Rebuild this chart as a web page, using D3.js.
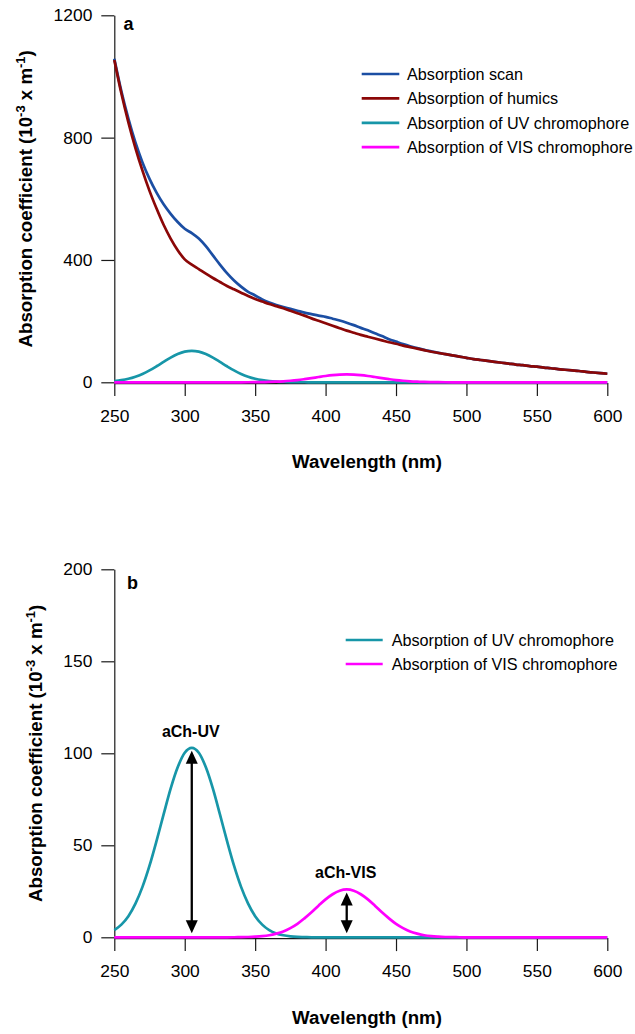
<!DOCTYPE html>
<html>
<head>
<meta charset="utf-8">
<script src="https://cdn.jsdelivr.net/npm/d3@7"></script>
<style>
  html, body { margin: 0; padding: 0; background: #fff; }
  svg { display: block; font-family: "Liberation Sans", Arial, sans-serif; }
</style>
</head>
<body>
<svg id="chart" width="635" height="1034"></svg>
<script>
// Wavelength grid (nm)
const wavelength = [250,255,260,265,270,275,280,285,290,295,300,305,310,315,320,325,330,335,340,345,
  350,355,360,365,370,375,380,385,390,395,400,405,410,415,420,425,430,435,440,445,
  450,455,460,465,470,475,480,485,490,495,500,505,510,515,520,525,530,535,540,545,
  550,555,560,565,570,575,580,585,590,595,600];

// Measured absorption scan (10^-3 m^-1)
const scan = [1058,952,862,784,719,665,620,582,551,524,502,488,470,445,415,385,357,333,313,296,
  284,271,261,253,246,240,234,228,223,218,214,208,202,195,187,178,170,160,151,141,
  133,125,118,112,106,101,96,92,88,84,80,76,73,70,67,64,61,58,56,53,
  51,48,46,43,41,39,37,34,32,30,28];

// Humic background absorption
const humics = [1054,945,850,766,692,626,568,515,470,432,402,385,370,355,341,328,315,304,293,282,
  272,264,256,249,242,234,226,218,209,201,193,185,177,169,162,155,149,143,137,131,
  126,120,115,110,105,100,96,92,88,84,80,76,73,70,67,64,61,58,56,53,
  51,48,46,43,41,39,37,34,32,30,28];

// UV chromophore band
const uvChromophore = [3.9,6.9,11.5,18.3,27.4,38.9,52.4,66.8,80.8,92.4,100.3,103,100.3,92.4,80.8,66.8,52.4,38.9,27.4,18.3,
  11.5,6.9,3.9,2.1,1.1,0.5,0.2,0.1,0,0,0,0,0,0,0,0,0,0,0,0,
  0,0,0,0,0,0,0,0,0,0,0,0,0,0,0,0,0,0,0,0,
  0,0,0,0,0,0,0,0,0,0,0];

// VIS chromophore band
const visChromophore = [0,0,0,0,0,0,0,0,0,0,0,0,0,0,0,0,0,0.03,0.07,0.16,
  0.33,0.6,1.1,2.0,3.2,5.0,7.3,10.3,13.6,17.2,20.6,23.4,25.3,26,25.3,23.4,20.6,17.2,13.6,10.3,
  7.3,5.0,3.2,2.0,1.1,0.6,0.33,0.16,0.07,0.03,0,0,0,0,0,0,0,0,0,0,
  0,0,0,0,0,0,0,0,0,0,0];

const xTicks = [250,300,350,400,450,500,550,600];
const yTicksA = [0,400,800,1200];
const yTicksB = [0,50,100,150,200];

const seriesNamesA = ["Absorption scan","Absorption of humics","Absorption of UV chromophore","Absorption of VIS chromophore"];
const seriesNamesB = ["Absorption of UV chromophore","Absorption of VIS chromophore"];

// Peak annotations in panel b
const peakLabels = ["aCh-UV","aCh-VIS"];
const peakWavelength = [305,415];
const peakHeight = [103,26];

const colors = {
  scan: "#1b4ea3",
  humics: "#8b0707",
  uv: "#1796a8",
  vis: "#ff00ff"
};

const svg = d3.select("#chart");
const FONT_TICK = 17.4, FONT_TITLE = 18.7, FONT_LEG = 16.2;

function panel(cfg) {
  const x = d3.scaleLinear().domain([250,600]).range([114.3, 607.3]);
  const y = d3.scaleLinear().domain(cfg.yDomain).range(cfg.yRange);
  const g = svg.append("g");

  // x axis
  const xa = g.append("g")
    .attr("transform", `translate(0,${cfg.yRange[0] + 0.8})`)
    .call(d3.axisBottom(x).tickValues(xTicks).tickFormat(d3.format("d"))
      .tickSize(13).tickSizeOuter(0).tickPadding(14));
  // y axis
  const ya = g.append("g")
    .attr("transform", `translate(${x.range()[0]},0)`)
    .call(d3.axisLeft(y).tickValues(cfg.yTicks).tickFormat(d3.format("d"))
      .tickSize(13).tickSizeOuter(0).tickPadding(9));
  [xa, ya].forEach(a => {
    a.selectAll("path, line").attr("stroke", "#1a1a1a").attr("stroke-width", 1.2);
    a.selectAll("text").attr("font-size", FONT_TICK).attr("fill", "#000")
      .attr("font-family", "Liberation Sans, Arial, sans-serif");
  });

  const line = d3.line().x((d, i) => x(wavelength[i])).y(d => y(d)).curve(d3.curveMonotoneX);
  cfg.series.forEach(s => {
    g.append("path").datum(s.values)
      .attr("fill", "none").attr("stroke", s.color).attr("stroke-width", 2.7)
      .attr("stroke-linejoin", "round").attr("d", line);
  });

  // panel letter
  g.append("text").attr("x", cfg.letterPos[0]).attr("y", cfg.letterPos[1])
    .attr("font-size", 18).attr("font-weight", "bold").text(cfg.letter);

  // legend
  cfg.series.forEach((s, i) => {
    const cy = cfg.legend.y0 + i * cfg.legend.dy;
    g.append("line").attr("x1", cfg.legend.x0).attr("x2", cfg.legend.x1)
      .attr("y1", cy).attr("y2", cy).attr("stroke", s.color).attr("stroke-width", 2.7);
    g.append("text").attr("x", cfg.legend.tx).attr("y", cy + 5.8)
      .attr("font-size", FONT_LEG).text(s.name);
  });

  // axis titles
  g.append("text").attr("x", 367).attr("y", cfg.xTitleY)
    .attr("text-anchor", "middle").attr("font-size", FONT_TITLE).attr("font-weight", "bold")
    .text("Wavelength (nm)");

  const yt = g.append("text")
    .attr("transform", `translate(${cfg.yTitleX},${(cfg.yRange[0] + cfg.yRange[1]) / 2}) rotate(-90)`)
    .attr("text-anchor", "middle").attr("font-size", FONT_TITLE).attr("font-weight", "bold");
  yt.append("tspan").text("Absorption coefficient (10");
  yt.append("tspan").attr("dy", -7.5).attr("font-size", 13).text("-3");
  yt.append("tspan").attr("dy", 7.5).text(" x m");
  yt.append("tspan").attr("dy", -7.5).attr("font-size", 13).text("-1");
  yt.append("tspan").attr("dy", 7.5).text(")");

  return {x, y, g};
}

// Panel a: scan decomposed into humics and chromophores
panel({
  yDomain: [0,1200], yRange: [382.3, 15.3], yTicks: yTicksA,
  series: [
    {name: seriesNamesA[0], values: scan, color: colors.scan},
    {name: seriesNamesA[1], values: humics, color: colors.humics},
    {name: seriesNamesA[2], values: uvChromophore, color: colors.uv},
    {name: seriesNamesA[3], values: visChromophore, color: colors.vis}
  ],
  letter: "a", letterPos: [123.5, 29.5],
  legend: {x0: 361.7, x1: 399.3, tx: 407, y0: 74, dy: 24.4},
  xTitleY: 468, yTitleX: 32
});

// Panel b: chromophore bands with peak heights
const pb = panel({
  yDomain: [0,200], yRange: [937.3, 569.3], yTicks: yTicksB,
  series: [
    {name: seriesNamesB[0], values: uvChromophore, color: colors.uv},
    {name: seriesNamesB[1], values: visChromophore, color: colors.vis}
  ],
  letter: "b", letterPos: [127, 588.5],
  legend: {x0: 345.7, x1: 382.7, tx: 391.7, y0: 640, dy: 24},
  xTitleY: 1024, yTitleX: 42
});

// double-headed arrows marking the band heights
const headL = 13, headW = 6;
peakWavelength.forEach((wl, i) => {
  const ax = pb.x(wl);
  const yTop = pb.y(peakHeight[i]) + 3;
  const yBot = pb.y(0) - 4;
  pb.g.append("line").attr("x1", ax).attr("x2", ax)
    .attr("y1", yTop + headL - 1).attr("y2", yBot - headL + 1)
    .attr("stroke", "#000").attr("stroke-width", 2.3);
  pb.g.append("path")
    .attr("d", `M${ax},${yTop} L${ax - headW},${yTop + headL} L${ax + headW},${yTop + headL} Z`)
    .attr("fill", "#000");
  pb.g.append("path")
    .attr("d", `M${ax},${yBot} L${ax - headW},${yBot - headL} L${ax + headW},${yBot - headL} Z`)
    .attr("fill", "#000");
  pb.g.append("text").attr("x", ax - 1).attr("y", pb.y(peakHeight[i]) - 11)
    .attr("text-anchor", "middle").attr("font-size", 16).attr("font-weight", "bold")
    .text(peakLabels[i]);
});
</script>
</body>
</html>
